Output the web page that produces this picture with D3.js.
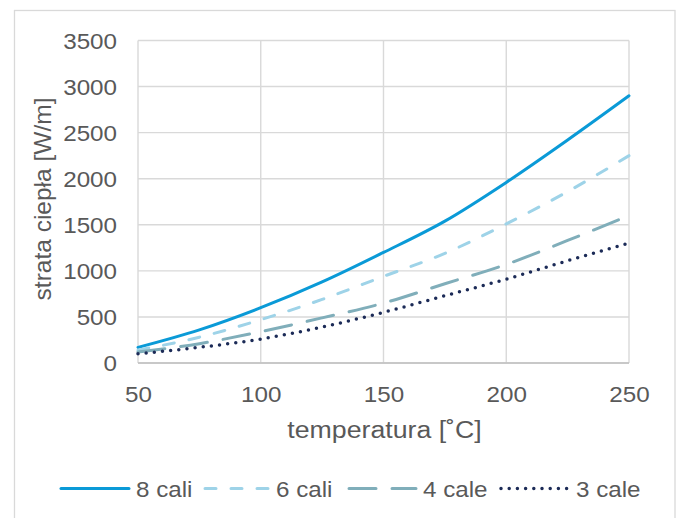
<!DOCTYPE html>
<html><head><meta charset="utf-8">
<script src="https://cdn.jsdelivr.net/npm/d3@7"></script>
<style>body{margin:0;background:#fff}svg{display:block}text{font-family:"Liberation Sans",Arial,sans-serif;fill:#595959}</style>
</head><body>
<svg id="c" width="681" height="518"></svg>
<script>
const temps = [50, 75, 100, 125, 150, 175, 200, 225, 250];
const cali8 = [170, 360, 600, 880, 1200, 1540, 1960, 2420, 2900];
const cali6 = [140, 280, 470, 690, 940, 1190, 1510, 1860, 2250];
const cale4 = [120, 210, 340, 490, 650, 860, 1070, 1330, 1600];
const cale3 = [100, 170, 260, 390, 550, 730, 910, 1110, 1300];
const seriesNames = ["8 cali", "6 cali", "4 cale", "3 cale"];
const xTicks = [50, 100, 150, 200, 250];
const yTicks = [0, 500, 1000, 1500, 2000, 2500, 3000, 3500];
const xTitle = "temperatura [˚C]";
const yTitle = "strata ciepła [W/m]";

const seriesVals = [cali8, cali6, cale4, cale3];
const styles = [
  {color:"#0A9AD7", dash:null, w:3},
  {color:"#9ED3E8", dash:"11,15", w:3},
  {color:"#80AEBA", dash:"27,16", w:3},
  {color:"#1C2B57", dash:"0,8.2", w:3.5}
];
const SX = 1.1;

const svg = d3.select("#c");
svg.append("rect").attr("x",14.5).attr("y",10.5).attr("width",660.5).attr("height",520)
  .attr("fill","#fff").attr("stroke","#D9D9D9").attr("stroke-width",1.3);

const L=138, R=629, T=40.5, B=363;
const x = d3.scaleLinear().domain([50,250]).range([L,R]);
const y = d3.scaleLinear().domain([0,3500]).range([B,T]);

const g = svg.append("g");
g.selectAll(".hg").data(yTicks).join("line")
  .attr("x1",L).attr("x2",R).attr("y1",d=>y(d)).attr("y2",d=>y(d))
  .attr("stroke","#D9D9D9").attr("stroke-width",1.4);
g.selectAll(".vg").data(xTicks).join("line")
  .attr("y1",T).attr("y2",B).attr("x1",d=>x(d)).attr("x2",d=>x(d))
  .attr("stroke","#D9D9D9").attr("stroke-width",1.4);
g.append("line").attr("x1",L).attr("x2",R).attr("y1",B).attr("y2",B)
  .attr("stroke","#BFBFBF").attr("stroke-width",1.4);

const xa = svg.append("g").attr("transform",`translate(0,${B})`)
  .call(d3.axisBottom(x).tickValues(xTicks).tickSize(0).tickPadding(0).tickFormat(d3.format("d")));
xa.select(".domain").remove();
xa.selectAll("text").attr("y",0).attr("dy",0).attr("transform",`translate(0,38.5) scale(${SX},1)`)
  .style("font-size","22px").attr("fill","#595959");

const ya = svg.append("g").attr("transform",`translate(${L},0)`)
  .call(d3.axisLeft(y).tickValues(yTicks).tickSize(0).tickPadding(0).tickFormat(d3.format("d")));
ya.select(".domain").remove();
ya.selectAll("text").attr("x",0).attr("dy","0.35em").attr("transform",`translate(-21,0) scale(${SX},1)`)
  .style("font-size","22px").attr("fill","#595959");

svg.append("text").attr("transform",`translate(${(L+R)/2+1},438) scale(1.09,1)`).attr("text-anchor","middle")
  .style("font-size","24.5px").text(xTitle);
svg.append("text").attr("transform",`translate(50.5,199) rotate(-90)`).attr("text-anchor","middle")
  .style("font-size","24.5px").text(yTitle);

const line = d3.line().x((d,i)=>x(temps[i])).y(d=>y(d)).curve(d3.curveMonotoneX);
seriesVals.forEach((vals,k)=>{
  const s=styles[k];
  svg.append("path").attr("d",line(vals)).attr("fill","none").attr("stroke",s.color)
    .attr("stroke-width",s.w).attr("stroke-linecap","round").attr("stroke-linejoin","round")
    .attr("stroke-dasharray",s.dash);
});

const legX = [[61,129,136],[205,272,276],[349,416,423],[501,568,576]];
const ly=488.5;
seriesNames.forEach((n,k)=>{
  const s=styles[k];
  svg.append("line").attr("x1",legX[k][0]).attr("x2",legX[k][1]).attr("y1",ly).attr("y2",ly)
    .attr("stroke",s.color).attr("stroke-width",s.w).attr("stroke-linecap","round").attr("stroke-dasharray",s.dash);
  svg.append("text").attr("transform",`translate(${legX[k][2]},497) scale(${SX},1)`)
    .style("font-size","22px").text(n);
});
</script>
</body></html>
